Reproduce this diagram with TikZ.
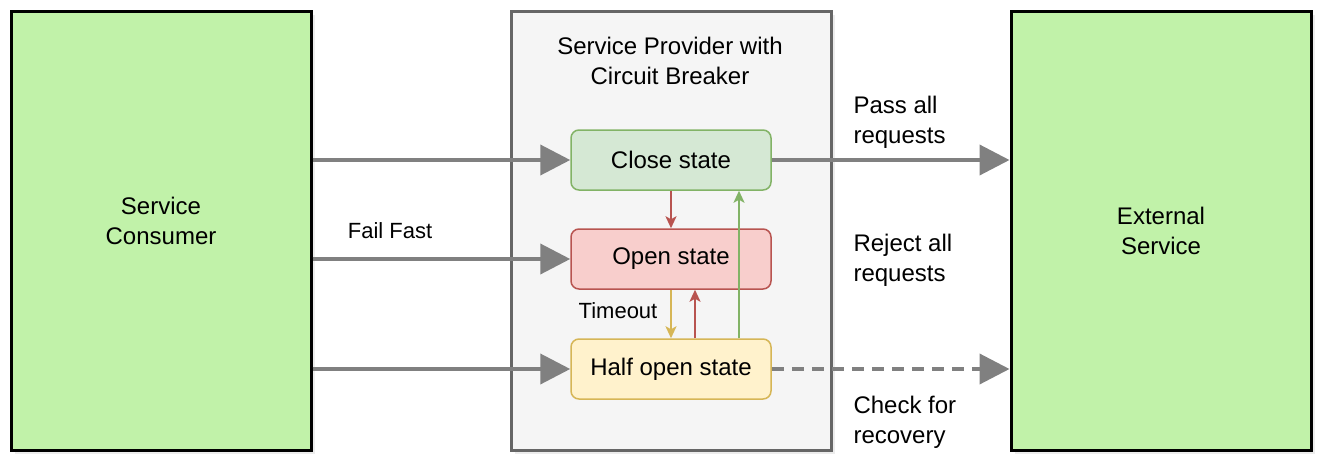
\documentclass[tikz,border=0pt]{standalone}
\usepackage{fontspec}
\setmainfont{Liberation Sans}
\usetikzlibrary{shapes}
\usetikzlibrary{positioning}
\usetikzlibrary{arrows.meta}
\usetikzlibrary{shadows}
\definecolor{srvgreen}{HTML}{C1F2A9}
\definecolor{provgray}{HTML}{F5F5F5}
\definecolor{provline}{HTML}{666666}
\definecolor{closefill}{HTML}{D5E8D4}
\definecolor{closeline}{HTML}{82B366}
\definecolor{openfill}{HTML}{F8CECC}
\definecolor{openline}{HTML}{B85450}
\definecolor{halffill}{HTML}{FFF2CC}
\definecolor{halfline}{HTML}{D6B656}
\definecolor{arrgray}{HTML}{808080}
\tikzset{
    shade/.style = {drop shadow={opacity=0.15,shadow xshift=4pt,shadow yshift=-4pt}},
    srvnode/.style = {rectangle, line width=3pt, draw=black, fill=srvgreen, minimum width=300pt, minimum height=439pt, align=center, font=\Tl, shade},
    provnode/.style = {rectangle, line width=3pt, draw=provline, fill=provgray, minimum width=320pt, minimum height=439pt, shade},
    statenode/.style = {rectangle, rounded corners=8pt, line width=1.5pt, minimum width=200pt, minimum height=60pt, font=\Tl},
    statenodeg/.style = {statenode, draw=closeline, fill=closefill},
    statenoder/.style = {statenode, draw=openline, fill=openfill},
    statenodey/.style = {statenode, draw=halfline, fill=halffill},
    txt/.style = {align=center, font=\Tl},
    txtl/.style = {align=left, anchor=west, font=\Tl},
    txts/.style = {font=\Ts},
    edgeg/.style = {-{Triangle[length=30pt,width=30pt]},line width=4pt,arrgray},
    edgegd/.style = {-{Triangle[length=30pt,width=30pt]},line width=4pt,arrgray,dash pattern=on 12pt off 8pt}, % recovery
    edger/.style = {-{Stealth[length=12pt,width=11pt,inset=3pt]},line width=2pt,openline},
    edgey/.style = {-{Stealth[length=12pt,width=11pt,inset=3pt]},line width=2pt,halfline},
    edgegr/.style = {-{Stealth[length=12pt,width=11pt,inset=3pt]},line width=2pt,closeline}
}
\newcommand{\Tl}{\fontsize{24}{30}\selectfont}
\newcommand{\Ts}{\fontsize{22}{27}\selectfont}

\begin{document}
\begin{tikzpicture}[x=1pt,y=-1pt]
\useasboundingbox[fill=white] (0,0) rectangle (1324,466);
\node[srvnode] at (161,230.5) (cons) {};
\node[provnode] at (671,230.5) (prov) {};
\node[srvnode] at (1161,230.5) (ext) {External\\Service};
\node[txt] at (161,221) (consl) {Service\\Consumer};
\node[txt] at (670,61) (ttl) {Service Provider with\\Circuit Breaker};
%
\node[statenodeg] at (671,160) (close) {Close state};
\node[statenoder] at (671,259) (open) {Open state};
\node[statenodey] at (671,369) (half) {Half open state};
%
\node[txts] at (390,231) (fail) {Fail Fast};
\node[txts] at (618,311) (tout) {Timeout};
\node[txtl] at (850,122) (pass) {Pass all\\requests};
\node[txtl] at (850,260) (rej) {Reject all\\requests};
\node[txtl] at (850,422) (chk) {Check for\\recovery};
%
\draw[edgeg] (cons.east |- close.west) -- (close.west);
\draw[edgeg] (cons.east |- open.west) -- (open.west);
\draw[edgeg] (cons.east |- half.west) -- (half.west);
\draw[edgeg] (close.east) -- (close.east -| ext.west);
\draw[edgegd] (half.east) -- (half.east -| ext.west);
%
\draw[edger] (close.south) -- (open.north);
\draw[edgey] (open.south) -- (half.north);
\draw[edger] ([xshift=24pt]half.north) -- ([xshift=24pt]open.south);
\draw[edgegr] ([xshift=68pt]half.north) -- ([xshift=68pt]close.south);

\end{tikzpicture}
\end{document}
